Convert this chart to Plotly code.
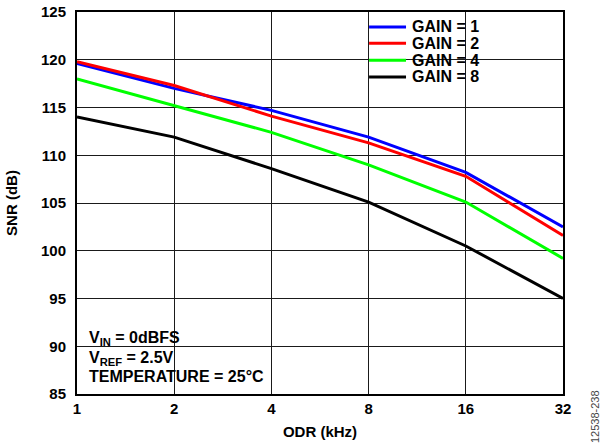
import plotly.graph_objects as go

# ODR sweep (kHz) and SNR per gain setting
odr_khz = [1, 2, 4, 8, 16, 32]
snr_gain1 = [119.6, 117.0, 114.7, 111.9, 108.2, 102.5]
snr_gain2 = [119.8, 117.3, 114.1, 111.3, 107.8, 101.6]
snr_gain4 = [118.0, 115.2, 112.4, 109.0, 105.1, 99.2]
snr_gain8 = [114.0, 111.9, 108.6, 105.1, 100.5, 95.0]

gain_labels = ["GAIN = 1", "GAIN = 2", "GAIN = 4", "GAIN = 8"]
gain_colors = ["#0000ff", "#ff0000", "#00ff00", "#000000"]

y_ticks = [85, 90, 95, 100, 105, 110, 115, 120, 125]

conditions = ["V<sub>IN</sub> = 0dBFS", "V<sub>REF</sub> = 2.5V", "TEMPERATURE = 25°C"]

font_family = "Liberation Sans, Arial, sans-serif"

fig = go.Figure()
for name, vals, color in zip(gain_labels, [snr_gain1, snr_gain2, snr_gain4, snr_gain8], gain_colors):
	fig.add_trace(go.Scatter(x = odr_khz, y = vals, mode = "lines", name = name,
	                         line = dict(color = color, width = 3), showlegend = False))

axis_common = dict(showline = True, linecolor = "black", linewidth = 2, mirror = True,
                   showgrid = True, gridcolor = "#1a1a1a", gridwidth = 1, zeroline = False,
                   ticks = "", automargin = False, tickfont = dict(size = 15, color = "black"))

fig.update_layout(
	width = 600, height = 448,
	margin = dict(l = 77, r = 37, t = 12, b = 54),
	paper_bgcolor = "white", plot_bgcolor = "white",
	font = dict(family = font_family, color = "black"),
	xaxis = dict(type = "log", range = [0, 1.50515], tickvals = odr_khz,
	             ticktext = [f"<b>{v}</b>" for v in odr_khz],
	             title = dict(text = "<b>ODR (kHz)</b>", font = dict(size = 15), standoff = 10),
	             **axis_common),
	yaxis = dict(range = [85, 125], tickvals = y_ticks,
	             ticktext = [f"<b>{v}</b>" for v in y_ticks], ticklabelstandoff = 6,
	             title = dict(text = "<b>SNR (dB)</b>", font = dict(size = 15), standoff = 20),
	             **axis_common),
	showlegend = False,
)

# legend box drawn by hand so the rows sit as tight as in the original
fig.add_shape(type = "rect", xref = "paper", yref = "paper",
              x0 = 0.584, x1 = 0.848, y0 = 0.785, y1 = 1.0,
              fillcolor = "white", line = dict(width = 0), layer = "between")
row_y = [0.961, 0.918, 0.874, 0.830]
for name, color, ry in zip(gain_labels, gain_colors, row_y):
	fig.add_shape(type = "line", xref = "paper", yref = "paper",
	              x0 = 0.601, x1 = 0.677, y0 = ry, y1 = ry,
	              line = dict(color = color, width = 3))
	fig.add_annotation(xref = "paper", yref = "paper", x = 0.685, y = ry,
	                   xanchor = "left", yanchor = "middle", showarrow = False,
	                   text = f"<b>{name}</b>", font = dict(size = 16, color = "black"))

# white box behind the conditions note (hides the grid)
fig.add_shape(type = "rect", xref = "paper", yref = "paper",
              x0 = 0.0, x1 = 0.42, y0 = 0.0, y1 = 0.183,
              fillcolor = "white", line = dict(width = 0), layer = "between")
for txt, ty in zip(conditions, [0.144, 0.094, 0.045]):
	fig.add_annotation(xref = "paper", yref = "paper", x = 0.02, y = ty,
	                   xanchor = "left", yanchor = "middle", align = "left", showarrow = False,
	                   text = f"<b>{txt}</b>", font = dict(size = 16, color = "black"))

fig.add_annotation(xref = "paper", yref = "paper", x = 1.066, y = -0.06,
                   xanchor = "center", yanchor = "middle", showarrow = False, textangle = -90,
                   text = "12538-238", font = dict(size = 11, color = "#444444"))

fig.write_html("out.html", config = {"displayModeBar": False},
               post_script = "document.body.style.margin = '0';")
